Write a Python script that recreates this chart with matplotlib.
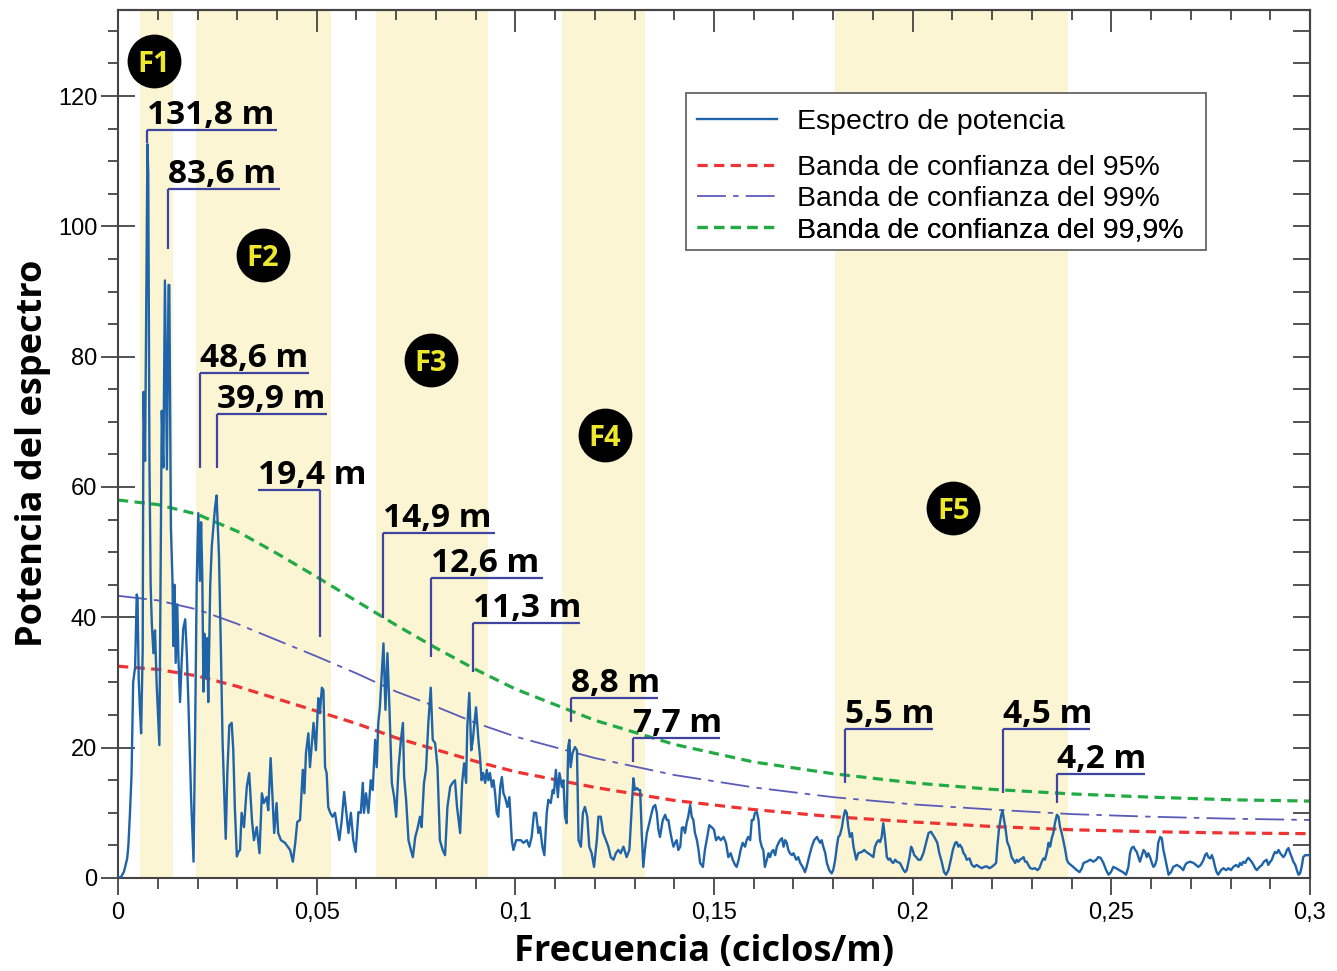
import matplotlib
matplotlib.use("Agg")
from matplotlib import pyplot as plt
from matplotlib.ticker import MultipleLocator
from matplotlib.patches import Rectangle

# espectro de potencia
freq = [
    0.0000, 0.0008, 0.0015, 0.0023, 0.0026, 0.0030, 0.0034, 0.0038, 0.0043, 0.0047,
    0.0049, 0.0052, 0.0055, 0.0058, 0.0062, 0.0064, 0.0068, 0.0072, 0.0074, 0.0076,
    0.0079, 0.0082, 0.0085, 0.0089, 0.0093, 0.0097, 0.0104, 0.0110, 0.0114, 0.0118,
    0.0123, 0.0127, 0.0129, 0.0133, 0.0137, 0.0139, 0.0142, 0.0145, 0.0149, 0.0152,
    0.0156, 0.0160, 0.0164, 0.0169, 0.0173, 0.0177, 0.0184, 0.0190, 0.0194, 0.0198,
    0.0202, 0.0206, 0.0209, 0.0212, 0.0215, 0.0217, 0.0221, 0.0224, 0.0227, 0.0232,
    0.0236, 0.0244, 0.0248, 0.0254, 0.0259, 0.0263, 0.0271, 0.0275, 0.0280, 0.0286,
    0.0290, 0.0294, 0.0299, 0.0303, 0.0307, 0.0311, 0.0317, 0.0324, 0.0330, 0.0337,
    0.0342, 0.0349, 0.0356, 0.0362, 0.0367, 0.0374, 0.0378, 0.0384, 0.0389, 0.0393,
    0.0399, 0.0403, 0.0410, 0.0420, 0.0433, 0.0440, 0.0446, 0.0451, 0.0458, 0.0465,
    0.0469, 0.0473, 0.0479, 0.0483, 0.0488, 0.0492, 0.0498, 0.0504, 0.0508, 0.0513,
    0.0517, 0.0521, 0.0525, 0.0529, 0.0534, 0.0540, 0.0546, 0.0550, 0.0557, 0.0563,
    0.0569, 0.0574, 0.0580, 0.0586, 0.0592, 0.0598, 0.0605, 0.0611, 0.0616, 0.0619,
    0.0624, 0.0630, 0.0636, 0.0641, 0.0647, 0.0651, 0.0655, 0.0659, 0.0664, 0.0668,
    0.0673, 0.0678, 0.0683, 0.0689, 0.0695, 0.0700, 0.0706, 0.0712, 0.0717, 0.0720,
    0.0725, 0.0731, 0.0737, 0.0742, 0.0748, 0.0753, 0.0760, 0.0764, 0.0770, 0.0775,
    0.0781, 0.0787, 0.0792, 0.0798, 0.0804, 0.0810, 0.0817, 0.0823, 0.0829, 0.0836,
    0.0842, 0.0848, 0.0853, 0.0857, 0.0861, 0.0866, 0.0871, 0.0876, 0.0879, 0.0884,
    0.0889, 0.0893, 0.0896, 0.0901, 0.0907, 0.0911, 0.0915, 0.0919, 0.0924, 0.0928,
    0.0932, 0.0936, 0.0941, 0.0945, 0.0949, 0.0953, 0.0957, 0.0962, 0.0966, 0.0970,
    0.0974, 0.0980, 0.0985, 0.0991, 0.0995, 0.1002, 0.1008, 0.1014, 0.1020, 0.1029,
    0.1035, 0.1041, 0.1047, 0.1052, 0.1058, 0.1062, 0.1068, 0.1073, 0.1079, 0.1083,
    0.1089, 0.1094, 0.1097, 0.1102, 0.1107, 0.1111, 0.1117, 0.1121, 0.1125, 0.1129,
    0.1133, 0.1136, 0.1139, 0.1144, 0.1150, 0.1155, 0.1159, 0.1165, 0.1170, 0.1175,
    0.1181, 0.1186, 0.1192, 0.1198, 0.1205, 0.1209, 0.1215, 0.1221, 0.1228, 0.1234,
    0.1240, 0.1247, 0.1253, 0.1259, 0.1265, 0.1272, 0.1280, 0.1287, 0.1293, 0.1297,
    0.1301, 0.1306, 0.1310, 0.1314, 0.1318, 0.1322, 0.1326, 0.1331, 0.1337, 0.1343,
    0.1347, 0.1352, 0.1356, 0.1360, 0.1364, 0.1371, 0.1377, 0.1381, 0.1385, 0.1389,
    0.1394, 0.1398, 0.1402, 0.1406, 0.1410, 0.1415, 0.1419, 0.1423, 0.1427, 0.1431,
    0.1435, 0.1440, 0.1444, 0.1448, 0.1452, 0.1457, 0.1461, 0.1465, 0.1472, 0.1477,
    0.1483, 0.1488, 0.1494, 0.1500, 0.1505, 0.1511, 0.1517, 0.1524, 0.1530, 0.1536,
    0.1542, 0.1547, 0.1553, 0.1557, 0.1562, 0.1567, 0.1572, 0.1578, 0.1582, 0.1586,
    0.1591, 0.1595, 0.1599, 0.1603, 0.1608, 0.1612, 0.1616, 0.1620, 0.1624, 0.1628,
    0.1633, 0.1637, 0.1641, 0.1645, 0.1649, 0.1654, 0.1658, 0.1666, 0.1671, 0.1675,
    0.1679, 0.1683, 0.1687, 0.1691, 0.1696, 0.1700, 0.1707, 0.1712, 0.1717, 0.1723,
    0.1729, 0.1733, 0.1739, 0.1746, 0.1752, 0.1759, 0.1763, 0.1767, 0.1771, 0.1775,
    0.1780, 0.1784, 0.1790, 0.1796, 0.1800, 0.1805, 0.1809, 0.1813, 0.1817, 0.1822,
    0.1826, 0.1830, 0.1834, 0.1838, 0.1842, 0.1847, 0.1851, 0.1858, 0.1863, 0.1872,
    0.1878, 0.1883, 0.1888, 0.1895, 0.1901, 0.1905, 0.1910, 0.1914, 0.1918, 0.1922,
    0.1926, 0.1931, 0.1935, 0.1939, 0.1943, 0.1947, 0.1951, 0.1956, 0.1960, 0.1968,
    0.1977, 0.1981, 0.1985, 0.1992, 0.1996, 0.2000, 0.2004, 0.2009, 0.2014, 0.2020,
    0.2027, 0.2034, 0.2040, 0.2046, 0.2051, 0.2056, 0.2062, 0.2067, 0.2073, 0.2079,
    0.2084, 0.2090, 0.2096, 0.2101, 0.2107, 0.2111, 0.2115, 0.2119, 0.2124, 0.2128,
    0.2132, 0.2136, 0.2143, 0.2149, 0.2155, 0.2161, 0.2168, 0.2174, 0.2180, 0.2186,
    0.2193, 0.2199, 0.2205, 0.2210, 0.2213, 0.2217, 0.2222, 0.2226, 0.2230, 0.2234,
    0.2238, 0.2243, 0.2249, 0.2253, 0.2258, 0.2262, 0.2266, 0.2270, 0.2275, 0.2279,
    0.2283, 0.2287, 0.2291, 0.2296, 0.2302, 0.2308, 0.2314, 0.2319, 0.2325, 0.2329,
    0.2333, 0.2338, 0.2342, 0.2346, 0.2350, 0.2354, 0.2358, 0.2363, 0.2367, 0.2371,
    0.2375, 0.2379, 0.2384, 0.2388, 0.2392, 0.2398, 0.2404, 0.2413, 0.2420, 0.2426,
    0.2430, 0.2438, 0.2447, 0.2455, 0.2462, 0.2467, 0.2473, 0.2480, 0.2487, 0.2493,
    0.2499, 0.2505, 0.2512, 0.2520, 0.2529, 0.2537, 0.2543, 0.2547, 0.2551, 0.2556,
    0.2560, 0.2564, 0.2568, 0.2572, 0.2577, 0.2581, 0.2585, 0.2589, 0.2593, 0.2598,
    0.2602, 0.2606, 0.2610, 0.2614, 0.2618, 0.2623, 0.2627, 0.2631, 0.2635, 0.2640,
    0.2644, 0.2650, 0.2656, 0.2665, 0.2673, 0.2681, 0.2686, 0.2690, 0.2698, 0.2707,
    0.2713, 0.2719, 0.2725, 0.2732, 0.2736, 0.2740, 0.2744, 0.2749, 0.2753, 0.2757,
    0.2761, 0.2765, 0.2769, 0.2776, 0.2782, 0.2789, 0.2795, 0.2801, 0.2807, 0.2814,
    0.2820, 0.2824, 0.2828, 0.2832, 0.2837, 0.2841, 0.2845, 0.2849, 0.2853, 0.2858,
    0.2862, 0.2866, 0.2873, 0.2879, 0.2884, 0.2891, 0.2895, 0.2900, 0.2904, 0.2908,
    0.2912, 0.2916, 0.2921, 0.2925, 0.2929, 0.2933, 0.2937, 0.2942, 0.2946, 0.2950,
    0.2954, 0.2958, 0.2963, 0.2967, 0.2971, 0.2975, 0.2979, 0.2983, 0.2988, 0.3000,
]
power = [
    0.0, 0.2, 1.0, 3.0, 5.0, 10.0, 16.0, 30.0, 32.4, 43.5,
    43.0, 30.4, 26.0, 22.2, 35.0, 74.6, 64.0, 95.0, 112.6, 108.0,
    64.0, 45.0, 39.0, 34.5, 38.0, 30.0, 20.4, 71.7, 63.0, 91.7,
    62.7, 91.0, 91.0, 53.8, 45.6, 35.6, 45.0, 33.0, 42.0, 33.7,
    27.0, 33.0, 38.2, 39.7, 34.5, 27.0, 12.0, 2.5, 22.6, 45.6,
    56.0, 45.6, 54.6, 46.4, 28.6, 37.5, 30.8, 36.8, 27.0, 45.0,
    51.0, 56.8, 58.7, 49.4, 34.5, 21.0, 6.0, 16.0, 23.4, 23.8,
    19.6, 10.7, 3.3, 4.0, 4.3, 10.0, 7.8, 14.0, 16.1, 8.9,
    5.8, 7.8, 3.8, 13.0, 11.5, 12.4, 10.4, 18.4, 12.0, 6.9,
    11.5, 6.9, 5.8, 5.4, 4.3, 2.5, 5.4, 8.6, 8.9, 16.6,
    13.0, 19.2, 22.2, 17.0, 20.7, 23.8, 19.6, 27.6, 25.3, 29.2,
    28.8, 17.0, 16.1, 10.9, 10.0, 9.4, 10.0, 8.4, 5.8, 8.9,
    13.2, 10.4, 6.9, 10.0, 5.8, 4.0, 10.1, 10.0, 14.6, 10.0,
    13.0, 10.0, 15.0, 13.5, 21.2, 17.0, 23.8, 26.2, 31.5, 36.0,
    25.8, 34.5, 26.2, 14.6, 12.4, 9.4, 17.0, 21.2, 23.8, 15.5,
    12.0, 5.8, 4.3, 3.2, 6.3, 7.4, 9.4, 7.8, 14.6, 16.6,
    23.8, 29.2, 21.2, 20.7, 17.0, 5.8, 4.3, 3.5, 10.9, 14.0,
    14.6, 15.0, 11.0, 8.9, 6.9, 14.6, 17.6, 14.6, 23.2, 28.4,
    19.6, 21.2, 23.2, 26.2, 21.2, 18.6, 15.0, 16.1, 14.6, 16.6,
    15.0, 16.1, 14.0, 15.0, 13.0, 10.0, 9.4, 14.0, 15.5, 13.0,
    12.4, 10.9, 12.4, 5.8, 4.3, 5.8, 5.8, 5.8, 5.4, 5.8,
    4.8, 6.3, 10.0, 10.0, 6.9, 7.8, 4.8, 3.5, 10.0, 12.0,
    11.5, 13.5, 13.0, 16.6, 12.4, 16.1, 14.0, 15.0, 9.4, 8.4,
    20.1, 21.2, 17.0, 19.2, 20.1, 19.6, 5.8, 4.8, 10.0, 10.9,
    9.4, 4.8, 3.8, 1.7, 5.8, 9.4, 9.4, 6.9, 5.8, 4.8,
    3.2, 2.8, 3.8, 4.3, 3.8, 4.8, 3.2, 4.3, 10.9, 15.3,
    13.5, 13.8, 13.5, 13.5, 6.9, 1.7, 4.3, 6.9, 8.4, 10.0,
    10.9, 11.2, 10.0, 7.4, 6.3, 8.9, 9.7, 8.9, 8.9, 7.4,
    5.8, 4.8, 5.4, 5.8, 4.3, 4.8, 7.7, 7.8, 6.9, 8.4,
    9.4, 11.2, 9.4, 8.9, 6.9, 5.8, 4.3, 2.3, 1.7, 4.3,
    6.3, 8.1, 7.8, 7.4, 5.8, 6.3, 5.8, 6.3, 5.4, 3.2,
    3.8, 2.8, 2.0, 1.7, 2.8, 4.3, 5.4, 4.8, 5.8, 6.3,
    5.8, 8.9, 8.9, 10.0, 10.1, 8.9, 5.8, 4.8, 4.3, 1.7,
    2.8, 3.8, 3.2, 4.0, 4.3, 3.5, 4.8, 5.8, 6.1, 4.8,
    5.8, 5.4, 4.3, 3.8, 3.5, 3.8, 2.8, 3.2, 2.3, 1.7,
    0.9, 1.7, 3.2, 4.8, 5.8, 6.3, 5.8, 5.4, 5.8, 4.8,
    3.8, 2.3, 1.2, 0.7, 1.2, 2.8, 4.8, 6.3, 6.6, 7.8,
    9.4, 10.4, 10.0, 7.8, 6.3, 6.9, 4.8, 2.8, 3.8, 4.0,
    4.3, 4.0, 3.8, 3.5, 3.2, 4.8, 5.5, 5.8, 5.5, 6.3,
    8.4, 5.8, 3.2, 2.8, 3.0, 2.5, 2.3, 2.8, 2.5, 2.3,
    1.2, 0.9, 1.2, 3.2, 4.8, 4.3, 3.5, 3.2, 2.8, 2.8,
    3.8, 5.5, 6.9, 7.1, 6.6, 6.1, 5.4, 3.8, 2.5, 0.9,
    0.5, 1.2, 2.8, 4.3, 5.4, 5.5, 4.8, 5.1, 4.6, 3.8,
    3.5, 2.8, 3.0, 2.0, 1.7, 2.0, 1.7, 1.5, 1.7, 1.8,
    1.5, 1.7, 2.0, 2.3, 4.8, 7.4, 9.4, 10.4, 8.9, 7.4,
    5.5, 4.8, 3.2, 2.8, 2.3, 2.8, 2.5, 2.8, 3.0, 3.2,
    2.5, 2.5, 2.0, 1.5, 1.4, 1.5, 1.2, 1.5, 2.5, 3.0,
    2.8, 4.0, 5.4, 4.8, 6.1, 6.9, 8.4, 9.7, 9.4, 7.8,
    6.9, 5.8, 4.3, 2.8, 2.3, 2.0, 1.7, 1.2, 0.9, 1.5,
    2.3, 2.5, 2.8, 2.5, 2.8, 3.2, 3.1, 2.3, 1.2, 0.5,
    0.9, 1.7, 1.5, 1.2, 0.9, 0.5, 1.7, 3.8, 4.6, 4.8,
    4.3, 4.0, 3.2, 2.5, 3.5, 4.3, 4.0, 3.2, 3.8, 3.1,
    2.3, 1.7, 2.0, 2.8, 5.4, 6.3, 6.1, 4.3, 3.2, 1.7,
    0.5, 0.9, 1.7, 2.0, 1.7, 1.2, 2.0, 2.3, 2.5, 2.3,
    2.0, 1.7, 2.0, 2.8, 3.5, 3.8, 3.2, 3.0, 3.5, 2.8,
    1.7, 0.9, 0.5, 1.2, 1.5, 1.2, 1.5, 1.2, 1.7, 2.0,
    1.7, 2.3, 2.0, 2.5, 2.3, 2.8, 3.1, 2.8, 2.5, 2.0,
    1.5, 1.2, 1.7, 2.0, 2.5, 2.8, 2.0, 2.5, 2.8, 3.5,
    4.0, 3.8, 4.3, 3.8, 3.5, 3.2, 3.5, 4.3, 4.6, 3.8,
    3.2, 2.5, 2.0, 1.2, 0.5, 0.7, 1.7, 3.2, 3.5, 3.5,
]

# bandas de confianza
band_freq = [0, 0.01, 0.02, 0.03, 0.04, 0.05, 0.06, 0.07, 0.08, 0.09, 0.1,
             0.12, 0.14, 0.16, 0.18, 0.2, 0.22, 0.24, 0.26, 0.28, 0.3]
band95 = [32.5, 32.0, 31.0, 29.4, 27.5, 25.6, 23.7, 21.5, 19.7, 17.9, 16.3,
          13.9, 11.9, 10.5, 9.4, 8.6, 7.9, 7.4, 7.1, 6.9, 6.8]
band99 = [43.3, 42.6, 41.2, 39.0, 36.5, 34.0, 31.4, 28.6, 26.3, 23.8, 21.7,
          18.4, 15.8, 13.9, 12.4, 11.3, 10.5, 9.8, 9.4, 9.1, 8.9]
band999 = [58.0, 57.3, 55.8, 53.2, 49.8, 46.2, 42.5, 38.8, 35.3, 32.0, 29.0,
           24.2, 20.5, 17.8, 16.0, 14.6, 13.6, 12.9, 12.4, 12.0, 11.8]

# zonas F1..F5
zone_names = ["F1", "F2", "F3", "F4", "F5"]
zone_start = [0.0055, 0.0196, 0.0650, 0.1118, 0.1805]
zone_end = [0.0138, 0.0536, 0.0931, 0.1326, 0.2391]
zone_label_x = [0.0091, 0.0365, 0.0788, 0.1226, 0.2102]
zone_label_y = [125.4, 95.6, 79.5, 68.0, 56.8]

# picos señalados
peak_labels = ["131,8 m", "83,6 m", "48,6 m", "39,9 m", "19,4 m", "14,9 m", "12,6 m",
               "11,3 m", "8,8 m", "7,7 m", "5,5 m", "4,5 m", "4,2 m"]
peak_freq = [0.0072, 0.0126, 0.0206, 0.0249, 0.0508, 0.0667, 0.0788,
             0.0894, 0.1140, 0.1296, 0.1830, 0.2228, 0.2363]
bracket_left = [0.0072, 0.0126, 0.0206, 0.0249, 0.0352, 0.0667, 0.0788,
                0.0894, 0.1140, 0.1296, 0.1830, 0.2228, 0.2363]
bracket_right = [0.0400, 0.0408, 0.0481, 0.0526, 0.0508, 0.0949, 0.1070,
                 0.1163, 0.1359, 0.1515, 0.2051, 0.2447, 0.2585]
bracket_top = [114.8, 105.7, 77.5, 71.2, 59.5, 52.9, 46.0, 39.1, 27.6, 21.5, 22.9, 22.9, 16.0]
bracket_bottom = [112.8, 96.5, 62.9, 62.9, 37.0, 39.9, 33.9, 31.6, 23.9, 17.8, 14.6, 13.0, 11.5]

x_ticks = [0, 0.05, 0.1, 0.15, 0.2, 0.25, 0.3]
x_tick_labels = ["0", "0,05", "0,1", "0,15", "0,2", "0,25", "0,3"]
y_ticks = [0, 20, 40, 60, 80, 100, 120]

legend_labels = ['Espectro de potencia', 'Banda de confianza del 95%',
                 'Banda de confianza del 99%', 'Banda de confianza del 99,9%']

plt.rcParams['font.family'] = ['Liberation Sans', 'DejaVu Sans']
bold_font = ['Open Sans', 'DejaVu Sans']

fig = plt.figure(figsize=(13.37, 9.71), dpi=100)
ax = fig.add_axes([0.0883, 0.0958, 0.8915, 0.8939])

for s, e in zip(zone_start, zone_end):
    ax.axvspan(s, e, color='#FBF5D3', lw=0, zorder=0)

l_spec, = ax.plot(freq, power, color='#1F63A8', lw=1.7, zorder=3)
l95, = ax.plot(band_freq, band95, color='#EE3333', lw=2.3, ls=(0, (3.2, 2.0)), zorder=2)
l99, = ax.plot(band_freq, band99, color='#5A5AB8', lw=1.3, ls=(0, (16, 4, 3, 4)), zorder=2)
l999, = ax.plot(band_freq, band999, color='#22AA44', lw=2.3, ls=(0, (3.2, 2.0)), zorder=2)

# corchetes de los picos
for i in range(len(peak_labels)):
    ax.plot([bracket_left[i], bracket_right[i]], [bracket_top[i], bracket_top[i]],
            color='#3F44A0', lw=1.6, zorder=4, solid_capstyle='butt')
    ax.plot([peak_freq[i], peak_freq[i]], [bracket_top[i], bracket_bottom[i]],
            color='#3F44A0', lw=1.6, zorder=4, solid_capstyle='butt')
    ax.text(bracket_left[i], bracket_top[i] + 0.9, peak_labels[i], fontsize=24,
            fontweight='bold', family=bold_font, ha='left', va='baseline', zorder=5)

# circulos F1..F5
ax.scatter(zone_label_x, zone_label_y, s=1500, c='black', zorder=6, linewidths=0)
for name, x, y in zip(zone_names, zone_label_x, zone_label_y):
    ax.text(x, y, name, color='#EEE82C', fontsize=21, fontweight='bold', family=bold_font,
            ha='center', va='center_baseline', zorder=7)

ax.set_xlim(0, 0.3)
ax.set_ylim(0, 133.2)
ax.set_xticks(x_ticks)
ax.set_xticklabels(x_tick_labels)
ax.set_yticks(y_ticks)
ax.xaxis.set_minor_locator(MultipleLocator(0.01))
ax.yaxis.set_minor_locator(MultipleLocator(5))
ax.tick_params(axis='x', which='major', direction='out', length=12, width=1.3,
               labelsize=17, pad=5, color='#444')
ax.tick_params(axis='x', which='minor', direction='out', length=8, width=1.3, color='#444')
ax.tick_params(axis='y', which='major', direction='inout', length=24, width=1.3,
               labelsize=17, pad=3, color='#444')
ax.tick_params(axis='y', which='minor', direction='out', length=7, width=1.3, color='#444')

top = ax.secondary_xaxis('top')
top.set_xticks(x_ticks)
top.xaxis.set_minor_locator(MultipleLocator(0.01))
top.tick_params(which='major', direction='in', length=16, width=1.3, labeltop=False, color='#444')
top.tick_params(which='minor', direction='in', length=7, width=1.3, color='#444')
right = ax.secondary_yaxis('right')
right.set_yticks(y_ticks)
right.yaxis.set_minor_locator(MultipleLocator(5))
right.tick_params(which='both', direction='in', length=12, width=1.3, labelright=False, color='#444')

for sp in list(ax.spines.values()) + list(top.spines.values()) + list(right.spines.values()):
    sp.set_color('#444')
    sp.set_linewidth(1.5)

ax.set_xlabel('Frecuencia (ciclos/m)', fontsize=26, fontweight='bold', family=bold_font)
ax.xaxis.set_label_coords(0.4916, -0.065)
ax.set_ylabel('Potencia del espectro', fontsize=26, fontweight='bold', family=bold_font)
ax.yaxis.set_label_coords(-0.056, 0.4896)

# leyenda: marco y una entrada por fila
ax.add_patch(Rectangle((0.4765, 0.7235), 0.4363, 0.1809, transform=ax.transAxes,
                       facecolor='white', edgecolor='#666666', lw=1.3, zorder=4.5))
row_y = [0.8710, 0.8180, 0.7823, 0.7465]
for handle, label, yy in zip([l_spec, l95, l99, l999], legend_labels, row_y):
    leg = ax.legend([handle], [label], loc='center left', bbox_to_anchor=(0.4857, yy),
                    frameon=False, fontsize=20.5, handlelength=2.8, handletextpad=0.72,
                    borderpad=0, borderaxespad=0)
    ax.add_artist(leg)

fig.savefig('out.png', dpi=100)
